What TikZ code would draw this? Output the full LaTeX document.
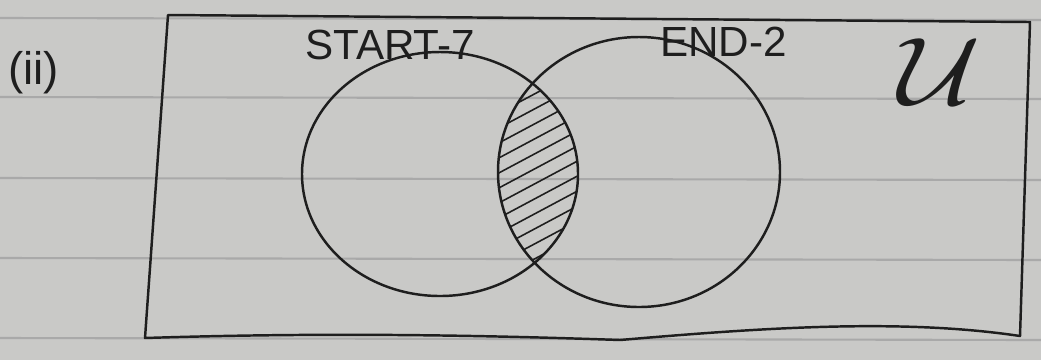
\documentclass[tikz,border=0pt]{standalone}
\usepackage{fontspec}
\setmainfont{Liberation Sans}
\begin{document}
\begin{tikzpicture}[x=0.02cm,y=-0.02cm,
  pen/.style={draw=ink,line width=1.4pt,line join=round,line cap=round},
  hatch/.style={draw=ink,line width=0.9pt,line cap=round},
  rule/.style={draw=ruleline,line width=1.2pt},
  lbl/.style={text=ink,inner sep=0pt,font=\fontsize{24}{24}\selectfont}]
\definecolor{paper}{HTML}{C9C9C7}
\definecolor{ruleline}{HTML}{A9A9A9}
\definecolor{ink}{HTML}{1E1E1E}
% paper
\fill[paper] (0,0) rectangle (1041,360);
\useasboundingbox (0,0) rectangle (1041,360);
% ruled lines
\foreach \yy in {18,97,178,258,338} {\draw[rule] (0,\yy) -- (1041,\yy+2);}
% universal set frame
\coordinate (tl) at (168,15);
\coordinate (tr) at (1030,22);
\coordinate (br) at (1020,336);
\coordinate (bl) at (145,338);
\draw[pen] (tl) -- (tr) -- (br) .. controls (900,318) and (760,328) .. (620,340)
  .. controls (450,334) and (300,333) .. (bl) -- cycle;
% sets
\coordinate (cs) at (440,174);
\coordinate (ce) at (639,172);
\begin{scope}
  \clip (cs) ellipse [x radius=138, y radius=122];
  \clip (ce) ellipse [x radius=141, y radius=135];
  \foreach \k in {0,...,24} {\draw[hatch] (420,140+15*\k) -- (660,12+15*\k);}
\end{scope}
\draw[pen] (cs) ellipse [x radius=138, y radius=122];
\draw[pen] (ce) ellipse [x radius=141, y radius=135];
% labels
\node[lbl,anchor=west] (start) at (305,45) {START-7};
\node[lbl,anchor=west] (end) at (660,42) {END-2};
\node[lbl,anchor=west,font=\fontsize{26}{26}\selectfont] (part) at (8,73) {(ii)};
\node[text=ink,inner sep=0pt,xscale=2.6,yscale=2.2] (univ) at (940,72) {\fontsize{24}{24}\selectfont$\mathcal{U}$};
\end{tikzpicture}
\end{document}
